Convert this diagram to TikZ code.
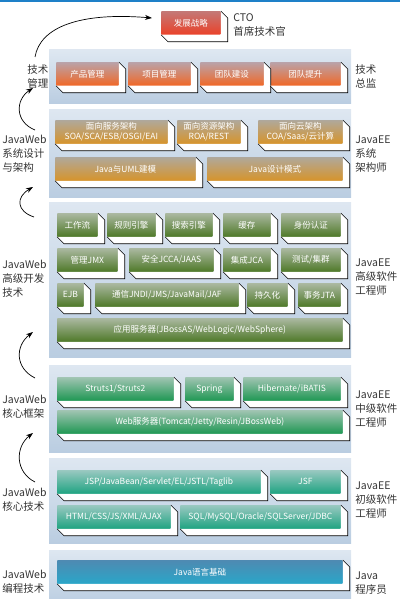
\documentclass[tikz,border=0pt]{standalone}
\usepackage{fontspec}
\newfontfamily\cjk{Noto Sans CJK SC}
\usetikzlibrary{arrows.meta,calc}

\definecolor{topline}{RGB}{30,128,200}
\definecolor{panelTop}{RGB}{222,231,241}
\definecolor{panelBot}{RGB}{186,205,225}
\definecolor{redTop}{RGB}{196,120,118}
\definecolor{redBot}{RGB}{234,66,42}
\definecolor{orTop}{RGB}{186,162,168}
\definecolor{orBot}{RGB}{240,104,40}
\definecolor{goTop}{RGB}{176,168,154}
\definecolor{goBot}{RGB}{214,148,44}
\definecolor{olTop}{RGB}{170,184,160}
\definecolor{olBot}{RGB}{80,122,42}
\definecolor{grTop}{RGB}{160,196,178}
\definecolor{grBot}{RGB}{32,152,84}
\definecolor{teTop}{RGB}{152,200,192}
\definecolor{teBot}{RGB}{32,164,130}
\definecolor{blTop}{RGB}{78,138,178}
\definecolor{blBot}{RGB}{42,166,200}

\tikzset{every picture/.style={line width=0.75pt}}

\begin{document}
\begin{tikzpicture}[x=1pt,y=1pt,yscale=-1,
  panel/.style={top color=panelTop,bottom color=panelBot},
  box/.style={anchor=north west,inner sep=0pt,minimum height=23pt,text=white,align=center,font=\cjk\fontsize{8.5}{10.5}\selectfont},
  redbox/.style={box,top color=redTop,bottom color=redBot},
  orbox/.style={box,top color=orTop,bottom color=orBot},
  gobox/.style={box,top color=goTop,bottom color=goBot},
  olbox/.style={box,top color=olTop,bottom color=olBot},
  grbox/.style={box,top color=grTop,bottom color=grBot},
  tebox/.style={box,top color=teTop,bottom color=teBot},
  blbox/.style={box,top color=blTop,bottom color=blBot},
  side/.style={anchor=north west,inner sep=0pt,align=left,text=black!80,font=\cjk\fontsize{10.5}{14}\selectfont},
  flow/.style={-{Stealth[length=7pt,width=5pt]},line width=0.7pt},
  rim/.style={line width=0.6pt}]
\useasboundingbox (0,0) rectangle (400,599);

%Top line
\fill[topline] (0,0) rectangle (400,2);

%Panels
\shade[panel] (49,50) rectangle (351,104);
\shade[panel] (49,110) rectangle (351,197);
\shade[panel] (49,202) rectangle (351,357);
\shade[panel] (49,365) rectangle (351,452);
\shade[panel] (49,458) rectangle (351,543);
\shade[panel] (49,550) rectangle (351,605);

% CTO
\node[redbox,minimum width=59pt] (cto) at (161,11) {发展战略};
% Director
\node[orbox,minimum width=62pt] (pm) at (56,62) {产品管理};
\node[orbox,minimum width=62pt] (prj) at (128,62) {项目管理};
\node[orbox,minimum width=63pt] (team) at (200,62) {团队建设};
\node[orbox,minimum width=70pt] (grow) at (270,62) {团队提升};
% Architect
\node[gobox,minimum width=112pt] (soa) at (55,120) {面向服务架构\\SOA/SCA/ESB/OSGI/EAI};
\node[gobox,minimum width=63pt] (roa) at (177,120) {面向资源架构\\ROA/REST};
\node[gobox,minimum width=84pt] (coa) at (258,120) {面向云架构\\COA/Saas/云计算};
\node[gobox,minimum width=140pt] (uml) at (55,157) {Java与UML建模};
\node[gobox,minimum width=135pt] (dp) at (207,157) {Java设计模式};
% Senior
\node[olbox,minimum width=40pt] (wf) at (57,213) {工作流};
\node[olbox,minimum width=48pt] (rule) at (107,213) {规则引擎};
\node[olbox,minimum width=47pt] (search) at (165,213) {搜索引擎};
\node[olbox,minimum width=47pt] (cache) at (223,213) {缓存};
\node[olbox,minimum width=59pt] (auth) at (281,213) {身份认证};
\node[olbox,minimum width=60pt] (jmx) at (57,248) {管理JMX};
\node[olbox,minimum width=84pt] (sec) at (129,248) {安全JCCA/JAAS};
\node[olbox,minimum width=47pt] (jca) at (223,248) {集成JCA};
\node[olbox,minimum width=59pt] (test) at (281,248) {测试/集群};
\node[olbox,minimum width=26pt] (ejb) at (57,283) {EJB};
\node[olbox,minimum width=143pt] (jndi) at (95,283) {通信JNDI/JMS/JavaMail/JAF};
\node[olbox,minimum width=40pt] (jpa) at (247,283) {持久化};
\node[olbox,minimum width=42pt] (jta) at (298,283) {事务JTA};
\node[olbox,minimum width=285pt] (app) at (57,318) {应用服务器(JBossAS/WebLogic/WebSphere)};
% Middle
\node[grbox,minimum width=116pt] (struts) at (57,377) {Struts1/Struts2};
\node[grbox,minimum width=48pt] (spring) at (185,377) {Spring};
\node[grbox,minimum width=97pt] (hib) at (243,377) {Hibernate/iBATIS};
\node[grbox,minimum width=285pt] (web) at (57,410) {Web服务器(Tomcat/Jetty/Resin/JBossWeb)};
% Junior
\node[tebox,minimum width=203pt] (jsp) at (57,470) {JSP/JavaBean/Servlet/EL/JSTL/Taglib};
\node[tebox,minimum width=70pt] (jsf) at (270,470) {JSF};
\node[tebox,minimum width=113pt] (html) at (57,505) {HTML/CSS/JS/XML/AJAX};
\node[tebox,minimum width=160pt] (sql) at (180,505) {SQL/MySQL/Oracle/SQLServer/JDBC};
% Programmer
\node[blbox,minimum width=285pt] (base) at (57,560) {Java语言基础};

%Box sides
\foreach \n in {cto,pm,prj,team,grow,soa,roa,coa,uml,dp,wf,rule,search,cache,auth,jmx,sec,jca,test,ejb,jndi,jpa,jta,app,struts,spring,hib,web,jsp,jsf,html,sql,base}{
  \fill[white] (\n.north east) -- ++(7,7) -- ($(\n.south east)+(7,7)$) -- ($(\n.south west)+(7,7)$) -- (\n.south west) -- (\n.south east) -- cycle;
  \draw[rim] (\n.north east) -- ++(7,7) -- ($(\n.south east)+(7,7)$) -- ($(\n.south west)+(7,7)$) -- (\n.south west);
}

% Text Node
\node[side] (lm) at (27,64) {技术\\管理};
\node[side] (la) at (2,135) {JavaWeb\\系统设计\\与架构};
\node[side] (ls) at (2,260) {JavaWeb\\高级开发\\技术};
\node[side] (lf) at (2,395) {JavaWeb\\核心框架};
\node[side] (lc) at (2,488) {JavaWeb\\核心技术};
\node[side] (lp) at (2,570) {JavaWeb\\编程技术};

\node[side] (rcto) at (233,13) {CTO\\首席技术官};
\node[side] (rm) at (355,64) {技术\\总监};
\node[side] (ra) at (355,135) {JavaEE\\系统\\架构师};
\node[side] (rs) at (355,258) {JavaEE\\高级软件\\工程师};
\node[side] (rf) at (355,390) {JavaEE\\中级软件\\工程师};
\node[side] (rc) at (355,481) {JavaEE\\初级软件\\工程师};
\node[side] (rp) at (355,571) {Java\\程序员};

%Curve Lines
\draw[flow] ($(lm.north west)+(8,-7)$) .. controls +(5,-30) and +(-72,-6) .. ($(cto.north west)+(-9,7)$);
\draw[flow] ($(la.north west)+(33,-5)$) .. controls +(-20,-8) and +(-18,12) .. ($(lm.north west)+(6,24)$);
\draw[flow] ($(ls.north west)+(32,-43)$) .. controls +(-18,-6) and +(-17,10) .. ($(la.north west)+(31,52)$);
\draw[flow] ($(lf.north west)+(33,-17)$) .. controls +(-20,-10) and +(-18,14) .. ($(ls.north west)+(31,72)$);
\draw[flow] ($(lc.north west)+(33,-6)$) .. controls +(-20,-10) and +(-18,14) .. ($(lf.north west)+(31,38)$);

\end{tikzpicture}
\end{document}
